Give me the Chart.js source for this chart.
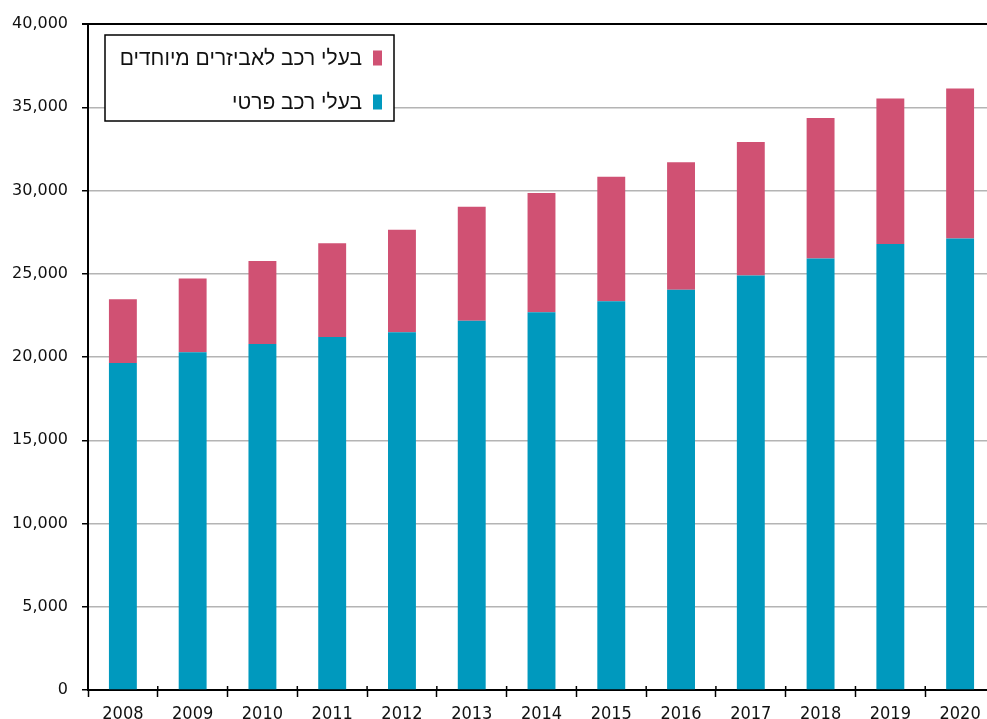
<!DOCTYPE html>
<html>
<head>
<meta charset="utf-8">
<script src="https://cdn.jsdelivr.net/npm/chart.js@4.4.1/dist/chart.umd.min.js"></script>
<style>
  html, body { margin: 0; padding: 0; background: #fff; overflow: hidden; }
  #wrap { position: absolute; left: 0; top: 0; width: 995px; height: 735px; }
</style>
</head>
<body>
<div id="wrap"><canvas id="chart"></canvas></div>
<script>
const years = ["2008", "2009", "2010", "2011", "2012", "2013", "2014", "2015", "2016", "2017", "2018", "2019", "2020"];
const privateOwners = [19640, 20280, 20780, 21200, 21480, 22180, 22690, 23350, 24040, 24890, 25910, 26790, 27110];
const specialOwners = [3830, 4440, 4990, 5630, 6170, 6850, 7160, 7480, 7650, 8020, 8440, 8730, 9010];
const yTicks = [0, 5000, 10000, 15000, 20000, 25000, 30000, 35000, 40000];

const labelPrivate = "בעלי רכב פרטי";
const labelSpecial = "בעלי רכב לאביזרים מיוחדים";

const BLUE = "#0099be";
const PINK = "#d05173";

// legend box drawn inside the plot, right-to-left, pink entry first
const boxLegend = {
  id: "boxLegend",
  afterDraw(chart) {
    const ctx = chart.ctx;
    const items = chart.data.datasets.slice().reverse();
    ctx.save();
    ctx.fillStyle = "#fff";
    ctx.fillRect(105, 35, 289, 86);
    ctx.strokeStyle = "#000";
    ctx.lineWidth = 1.5;
    ctx.strokeRect(105, 35, 289, 86);
    ctx.font = "21px 'Liberation Sans', Arial, sans-serif";
    ctx.direction = "rtl";
    ctx.textAlign = "right";
    ctx.textBaseline = "middle";
    items.forEach((ds, i) => {
      const cy = 58 + i * 44;
      ctx.fillStyle = ds.backgroundColor;
      ctx.fillRect(373, cy - 7.5, 9, 15);
      ctx.fillStyle = "#111";
      ctx.fillText(ds.label, 362, cy + 1);
    });
    ctx.restore();
  }
};

// small marks above the x axis so the category ticks cross the line
const crossTicks = {
  id: "crossTicks",
  afterDraw(chart) {
    const x = chart.scales.x;
    const ctx = chart.ctx;
    const bottom = chart.chartArea.bottom;
    ctx.save();
    ctx.strokeStyle = "#000";
    ctx.lineWidth = 1.5;
    for (let i = 1; i < years.length; i++) {
      const px = (x.getPixelForTick(i) + x.getPixelForTick(i - 1)) / 2;
      ctx.beginPath();
      ctx.moveTo(px, bottom - 4);
      ctx.lineTo(px, bottom);
      ctx.stroke();
    }
    ctx.restore();
  }
};

new Chart(document.getElementById("chart"), {
  type: "bar",
  data: {
    labels: years,
    datasets: [
      { label: labelPrivate, data: privateOwners, backgroundColor: BLUE, stack: "s" },
      { label: labelSpecial, data: specialOwners, backgroundColor: PINK, stack: "s" }
    ]
  },
  options: {
    responsive: true,
    maintainAspectRatio: false,
    animation: false,
    layout: { padding: { top: 24, left: 0, right: 0, bottom: 0 } },
    datasets: { bar: { categoryPercentage: 1, barPercentage: 0.4 } },
    plugins: { legend: { display: false }, tooltip: { enabled: false } },
    scales: {
      x: {
        stacked: true,
        afterFit(scale) { scale.height = 45; },
        border: { color: "#000", width: 2 },
        grid: { drawOnChartArea: false, tickLength: 7, tickColor: "#000", tickWidth: 1.5 },
        ticks: {
          color: "#111",
          padding: 7,
          font: { family: "'DejaVu Sans Condensed', 'Liberation Sans Narrow', sans-serif", size: 18 }
        }
      },
      y: {
        stacked: true,
        min: 0,
        max: 40000,
        afterFit(scale) { scale.width = 88; },
        afterBuildTicks(scale) { scale.ticks = yTicks.map(v => ({ value: v })); },
        border: { color: "#000", width: 2 },
        grid: {
          color: c => (c.tick.value === 40000 || c.tick.value === 0) ? "#000" : "#b4b4b4",
          lineWidth: c => (c.tick.value === 40000 ? 2 : 1.5),
          tickColor: "#000",
          tickLength: 6
        },
        ticks: {
          color: "#111",
          padding: 14,
          font: { family: "'DejaVu Sans', Verdana, sans-serif", size: 16 },
          callback: v => v.toLocaleString("en-US")
        }
      }
    }
  },
  plugins: [boxLegend, crossTicks]
});
</script>
</body>
</html>
